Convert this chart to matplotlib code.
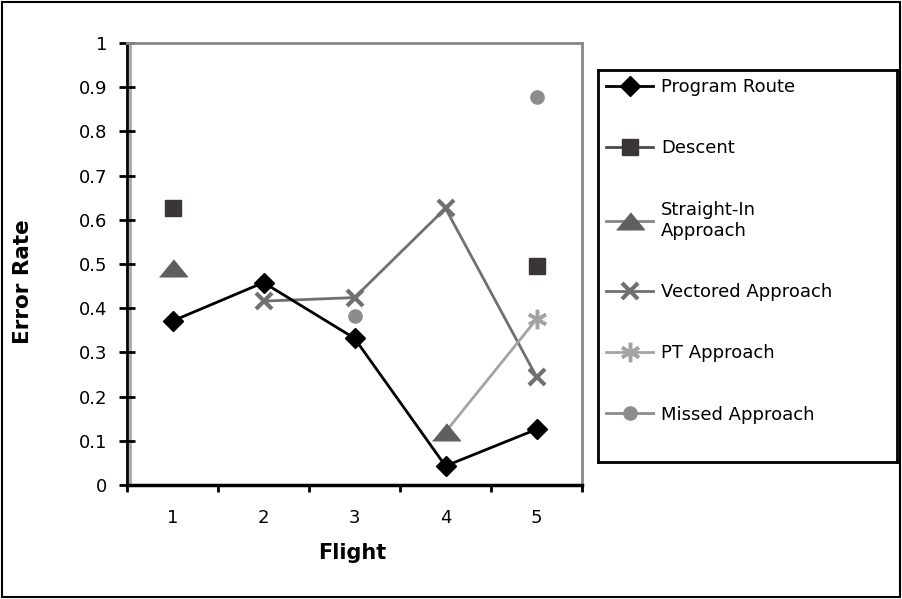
import matplotlib
import matplotlib.pyplot as plt
import numpy as np
from matplotlib.patches import Rectangle

matplotlib.use("Agg")

# 每次飞行的错误率(缺失 = 该飞行无此阶段)
flights = [1, 2, 3, 4, 5]
programRoute = [0.371, 0.458, 0.332, 0.043, 0.126]
descent = [0.627, np.nan, np.nan, np.nan, 0.495]
straightIn = [0.49, np.nan, np.nan, 0.12, np.nan]
vectored = [np.nan, 0.416, 0.424, 0.626, 0.245]
ptApproach = [np.nan, np.nan, np.nan, 0.12, 0.375]
missed = [np.nan, np.nan, 0.382, np.nan, 0.878]

yTicks = [0, 0.1, 0.2, 0.3, 0.4, 0.5, 0.6, 0.7, 0.8, 0.9, 1]
yTickLabels = ["0", "0.1", "0.2", "0.3", "0.4", "0.5", "0.6", "0.7", "0.8", "0.9", "1"]

# 扁平三角形
flatTriangle = [(-1, -0.6), (1, -0.6), (0, 0.62)]

fig = plt.figure(figsize=(9.02, 5.99), dpi=100)
ax = fig.add_axes([127 / 902, 1 - 485 / 599, 455 / 902, 442 / 599])

series = [
    ("Program Route", programRoute,
     dict(color="black", marker="D", markersize=10, lw=2, zorder=6)),
    ("Descent", descent,
     dict(color="#4a4a4a", marker="s", markersize=11, lw=2,
          markerfacecolor="#3b3636", markeredgecolor="#3b3636", zorder=3)),
    ("Straight-In\nApproach", straightIn,
     dict(color="#858585", marker=flatTriangle, markersize=20, lw=2,
          markerfacecolor="#5f5f5f", markeredgecolor="#5f5f5f", zorder=5)),
    ("Vectored Approach", vectored,
     dict(color="#707070", marker="x", markersize=11, mew=3, lw=2, zorder=3)),
    # 第4次飞行的点被三角形盖住, 只标第5次
    ("PT Approach", ptApproach,
     dict(color="#a3a3a3", marker=(6, 2, 0), markersize=14, mew=2.5, lw=2,
          markevery=[4], zorder=4)),
    ("Missed Approach", missed,
     dict(color="#8c8c8c", marker="o", markersize=9.5, lw=2, zorder=3)),
]

handles = []
for label, values, style in series:
    (ln,) = ax.plot(flights, values, label=label, **style)
    handles.append(ln)

ax.set_xlim(0.5, 5.5)
ax.set_ylim(0, 1)

# 坐标轴样式
ax.spines["left"].set_color("black")
ax.spines["left"].set_linewidth(2)
ax.spines["bottom"].set_color("black")
ax.spines["bottom"].set_linewidth(2.5)
for side in ("top", "right"):
    ax.spines[side].set_color("#888888")
    ax.spines[side].set_linewidth(2)
ax.plot([0.006, 0.006], [0, 1], transform=ax.transAxes, color="#a8a8a8",
        lw=2, clip_on=False, zorder=1)

ax.set_yticks(yTicks)
ax.set_yticklabels(yTickLabels)
ax.tick_params(axis="y", direction="inout", length=12, width=2, pad=8, labelsize=13)

ax.set_xticks(flights)
ax.set_xticklabels([str(f) for f in flights])
ax.set_xticks(np.arange(0.5, 6.0, 1.0), minor=True)
ax.tick_params(axis="x", which="major", length=0, pad=17, labelsize=13)
ax.tick_params(axis="x", which="minor", direction="out", length=5, width=2)

fig.text(23 / 902, 1 - 282 / 599, "Error Rate", rotation=90, ha="center",
         va="center", fontsize=15.5, fontweight="heavy")
fig.text(352 / 902, 1 - 553 / 599, "Flight", ha="center", va="center",
         fontsize=15, fontweight="bold")

# 图例框
lax = fig.add_axes([598 / 902, 1 - 462 / 599, 299 / 902, 392 / 599])
lax.set_xticks([])
lax.set_yticks([])
for sp in lax.spines.values():
    sp.set_color("black")
    sp.set_linewidth(2)
leg = lax.legend(handles=handles, loc="upper left", bbox_to_anchor=(0, 1),
                 borderaxespad=0, borderpad=0.45, frameon=False, fontsize=13,
                 handlelength=2.6, handletextpad=0.45, labelspacing=2.4)
# 图例里每条线只在中间画一个标记
for h in leg.legend_handles:
    h.set_markevery([1])

# 外框
fig.patches.append(Rectangle((0.002, 0.003), 0.996, 0.994, transform=fig.transFigure,
                             fill=False, edgecolor="black", lw=1.5))

fig.savefig("out.png", dpi=100)
